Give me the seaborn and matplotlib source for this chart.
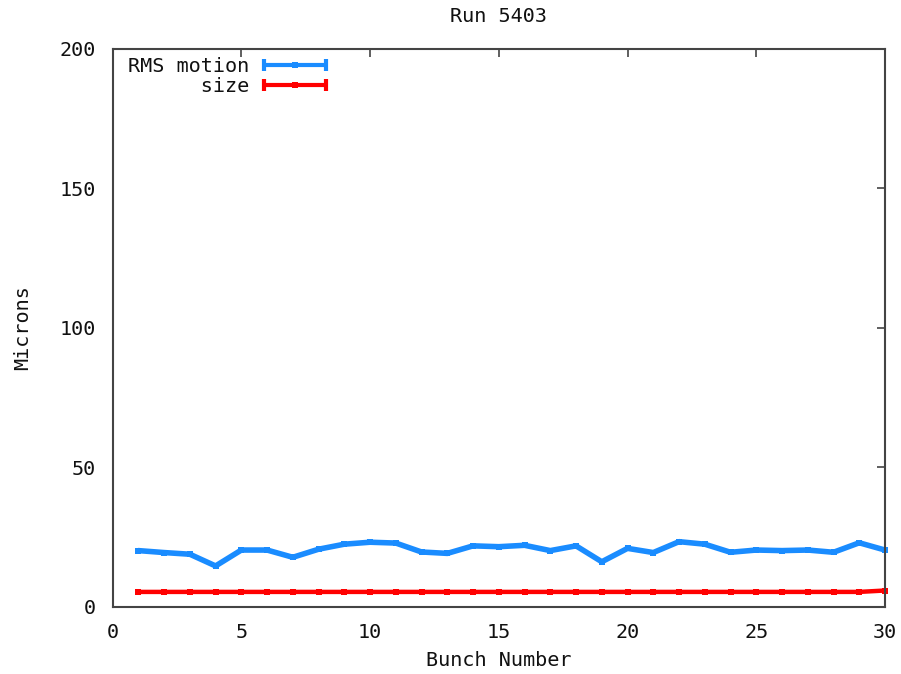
import matplotlib
matplotlib.use("Agg")
import matplotlib.pyplot as plt
from matplotlib.lines import Line2D
from matplotlib.legend_handler import HandlerBase
import numpy as np
import pandas as pd
import seaborn as sns

# Bunch-by-bunch beam measurements, run 5403
bunch = list(range(1, 31))
rms_motion = [20.1, 19.4, 18.8, 14.6, 20.3, 20.3, 17.7, 20.6, 22.4, 23.1,
              22.8, 19.6, 19.1, 21.8, 21.5, 22.0, 20.1, 21.8, 16.1, 20.9,
              19.4, 23.3, 22.4, 19.5, 20.3, 20.1, 20.3, 19.5, 22.9, 20.3]
beam_size = [5.3, 5.3, 5.3, 5.3, 5.3, 5.3, 5.3, 5.3, 5.3, 5.3,
             5.3, 5.3, 5.3, 5.3, 5.3, 5.3, 5.3, 5.3, 5.3, 5.3,
             5.3, 5.3, 5.3, 5.3, 5.3, 5.3, 5.3, 5.3, 5.3, 5.8]
series_names = ["RMS motion", "size"]
series_colors = ["#1a8cff", "#ff0000"]
x_ticks = [0, 5, 10, 15, 20, 25, 30]
y_ticks = [0, 50, 100, 150, 200]

df = pd.DataFrame({
    "Bunch Number": bunch * 2,
    "Microns": rms_motion + beam_size,
    "series": [series_names[0]] * len(bunch) + [series_names[1]] * len(bunch),
})

sns.set_style("white")
plt.rcParams["font.family"] = ["DejaVu Sans Mono", "DejaVu Sans"]
FS = 14.5
TXT = "#111111"

fig = plt.figure(figsize=(9.01, 6.74), dpi=100)
ax = fig.add_axes([112.6 / 901, 1 - 606.7 / 674, (885 - 112.6) / 901, (606.7 - 48.5) / 674])

widths = {"RMS motion": 4.0, "size": 3.2}
msizes = {"RMS motion": 5.0, "size": 4.5}
for name, col in zip(series_names, series_colors):
    sub = df[df["series"] == name]
    sns.lineplot(data=sub, x="Bunch Number", y="Microns", ax=ax, color=col,
                 lw=widths[name], marker="s", markersize=msizes[name],
                 markeredgewidth=0, legend=False, clip_on=False)

ax.set_xlim(0, 30)
ax.set_ylim(0, 200)
ax.set_xticks(x_ticks)
ax.set_yticks(y_ticks)
ax.tick_params(direction="in", length=6, width=1.2, color="#444444",
               labelsize=FS, labelcolor=TXT, top=True, right=True, pad=12)
ax.tick_params(axis="x", pad=12)
for sp in ax.spines.values():
    sp.set_visible(True)
    sp.set_color("#444444")
    sp.set_linewidth(1.5)

ax.set_xlabel("Bunch Number", fontsize=FS, labelpad=6, color=TXT)
ax.set_ylabel("Microns", fontsize=FS, labelpad=20, color=TXT)
fig.text(498.8 / 901, 1 - 17 / 674, "Run 5403", fontsize=FS, ha="center",
         va="center", color=TXT)


class CappedLineHandler(HandlerBase):
    def create_artists(self, legend, orig_handle, xdescent, ydescent,
                       width, height, fontsize, trans):
        y = height / 2 - ydescent
        x0, x1 = -xdescent, width - xdescent
        c = orig_handle.get_color()
        lw = orig_handle.get_linewidth()
        line = Line2D([x0, x1], [y, y], color=c, lw=lw)
        caps = Line2D([x0, x1], [y, y], ls="none", marker="|", ms=9, mew=lw, color=c)
        mid = Line2D([(x0 + x1) / 2], [y], ls="none", marker="s", ms=4.5,
                     mew=0, color=c)
        for a in (line, caps, mid):
            a.set_transform(trans)
        return [line, caps, mid]


handles = [Line2D([], [], color=series_colors[0], lw=3.0),
           Line2D([], [], color=series_colors[1], lw=3.0)]
labels = [series_names[0], series_names[1].rjust(len(series_names[0]))]
leg = ax.legend(handles, labels, loc="upper left",
                bbox_to_anchor=((128 - 112.6) / 772.4, 0.985),
                frameon=False, fontsize=FS, borderpad=0, borderaxespad=0,
                handlelength=3.05, handletextpad=0.75, labelspacing=0.05,
                markerfirst=False,
                handler_map={Line2D: CappedLineHandler()})
for t in leg.get_texts():
    t.set_color(TXT)

fig.savefig("out.png", dpi=100)
